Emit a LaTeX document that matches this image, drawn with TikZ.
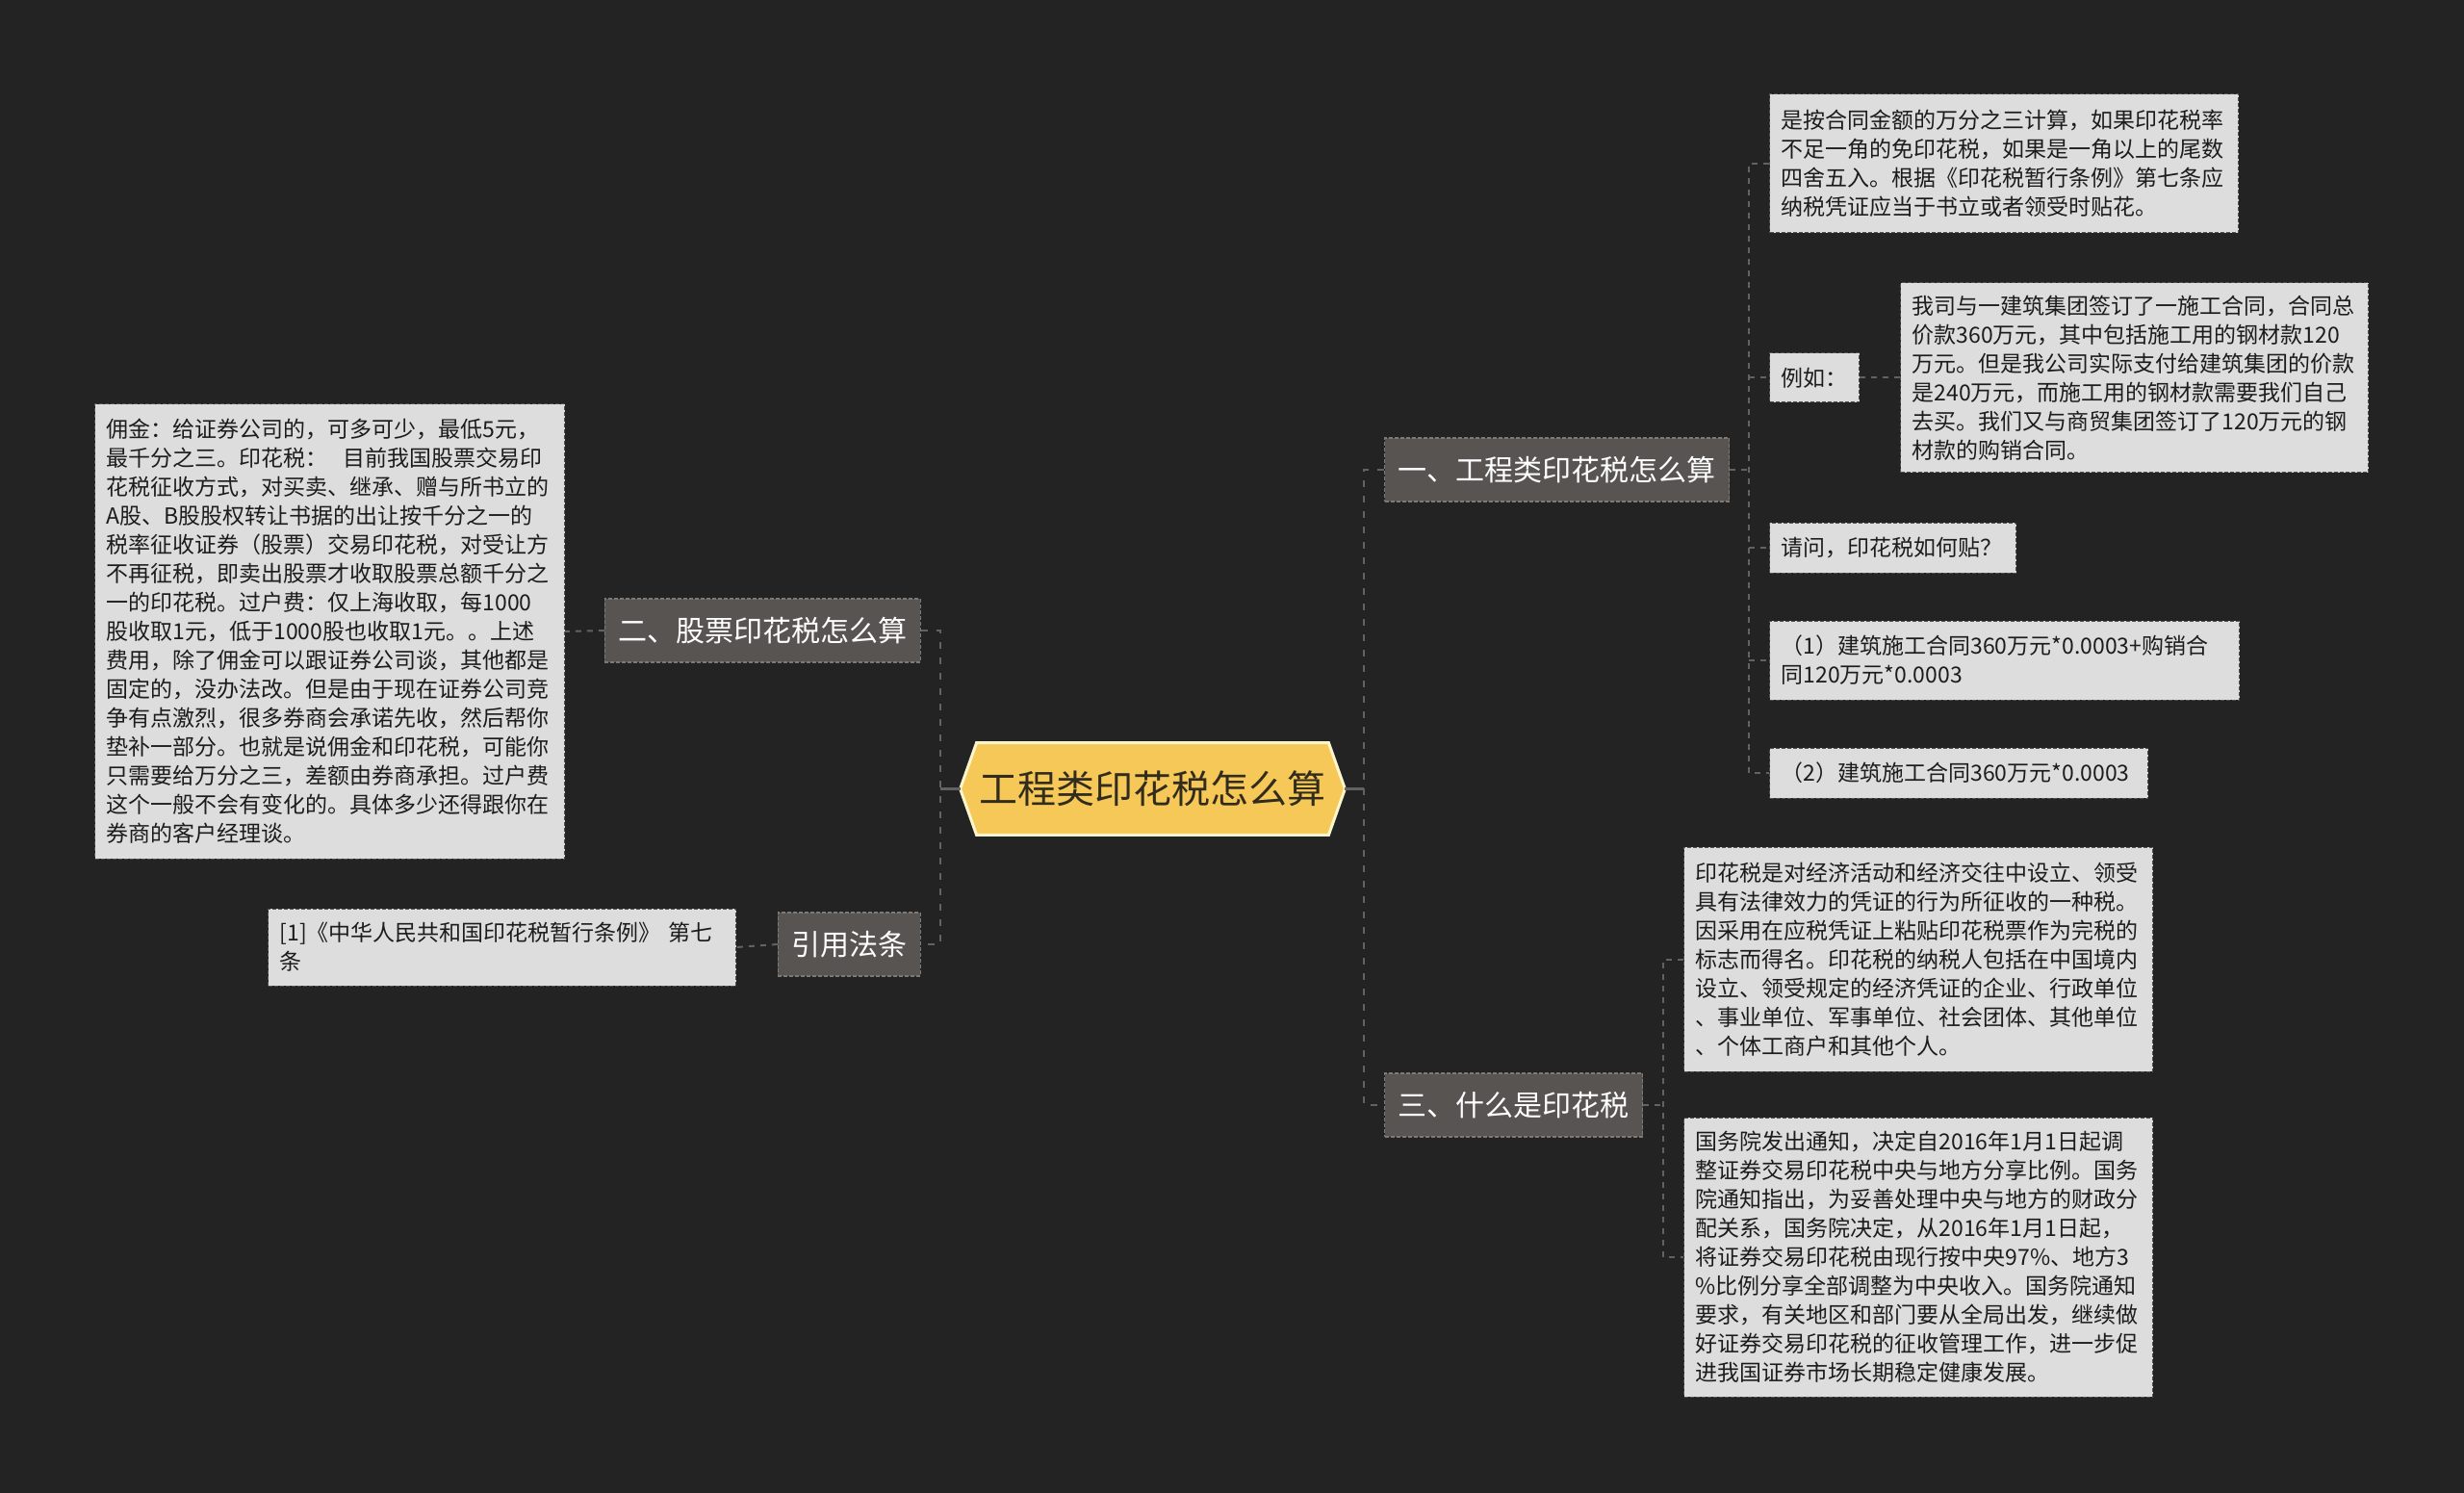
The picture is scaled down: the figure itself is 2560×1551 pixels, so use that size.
\documentclass[tikz,border=0pt]{standalone}
\usepackage{fontspec}
\setmainfont{Noto Sans CJK SC}
\usetikzlibrary{calc}
\pgfdeclarelayer{bglayer}
\pgfdeclarelayer{edgelayer}
\pgfsetlayers{bglayer,edgelayer,main}
\definecolor{bgc}{RGB}{35,35,35}
\definecolor{leaffill}{RGB}{221,221,221}
\definecolor{leafborder}{RGB}{80,80,80}
\definecolor{leaftext}{RGB}{28,28,28}
\definecolor{branchfill}{RGB}{88,84,82}
\definecolor{branchborder}{RGB}{125,121,118}
\definecolor{rootfill}{RGB}{245,200,88}
\definecolor{rootborder}{RGB}{255,245,205}
\definecolor{roottext}{RGB}{50,44,30}
\definecolor{conncol}{RGB}{98,98,98}
\begin{document}
\begin{tikzpicture}[x=0.5pt,y=-0.5pt,
  leaf/.style={draw=leafborder, fill=leaffill, line width=0.5pt, dash pattern=on 2pt off 1pt,
    anchor=west, inner xsep=6pt, inner ysep=0pt, align=left, text=leaftext,
    font=\fontsize{11.5pt}{15pt}\selectfont},
  branch/.style={draw=branchborder, fill=branchfill, line width=0.6pt, dash pattern=on 2pt off 1pt,
    inner xsep=7pt, inner ysep=0pt, minimum height=33pt, text=white,
    font=\fontsize{15pt}{18pt}\selectfont},
  conn/.style={draw=conncol, line width=1.4pt, dash pattern=on 3.5pt off 4.5pt},
  conntwo/.style={draw=conncol, line width=1pt, dash pattern=on 3pt off 3pt},
  stub/.style={draw=conncol, line width=1.4pt}]
\useasboundingbox (0,0) rectangle (2560,1551);
\begin{pgfonlayer}{bglayer}
\fill[bgc] (0,0) rectangle (2560,1551);
\end{pgfonlayer}

% root
\node[font=\fontsize{20pt}{24pt}\selectfont, text=roottext, minimum width=199.5pt,
  minimum height=47.5pt, inner sep=0pt] (root) at (1197.5,819.5) {工程类印花税怎么算};

% branches
\node[branch, anchor=west] (b1) at (1438,488) {一、工程类印花税怎么算};
\node[branch, anchor=west] (b3) at (1438,1148) {三、什么是印花税};
\node[branch, anchor=east] (b2) at (957,655) {二、股票印花税怎么算};
\node[branch, anchor=east] (b4) at (957,981) {引用法条};

% leaves of branch 1
\node[leaf, minimum width=243.5pt, text width=231.5pt, minimum height=72pt] (c1a) at (1838,170)
{是按合同金额的万分之三计算，如果印花税率\\不足一角的免印花税，如果是一角以上的尾数\\四舍五入。根据《印花税暂行条例》第七条应\\纳税凭证应当于书立或者领受时贴花。};
\node[leaf, minimum width=46.5pt, text width=34.5pt, minimum height=25.5pt] (c1b) at (1838,392.5) {例如：};
\node[leaf, minimum width=243pt, text width=231pt, minimum height=98.5pt] (c1bb) at (1974,392.5)
{我司与一建筑集团签订了一施工合同，合同总\\价款360万元，其中包括施工用的钢材款120\\万元。但是我公司实际支付给建筑集团的价款\\是240万元，而施工用的钢材款需要我们自己\\去买。我们又与商贸集团签订了120万元的钢\\材款的购销合同。};
\node[leaf, minimum width=128pt, text width=116pt, minimum height=26pt] (c1c) at (1838,569) {请问，印花税如何贴？};
\node[leaf, minimum width=244pt, text width=232pt, minimum height=41pt] (c1d) at (1838,686)
{（1）建筑施工合同360万元*0.0003+购销合\\同120万元*0.0003};
\node[leaf, minimum width=196.5pt, text width=184.5pt, minimum height=26pt] (c1e) at (1838,803)
{（2）建筑施工合同360万元*0.0003};

% leaves of branch 3
\node[leaf, minimum width=243.5pt, text width=231.5pt, minimum height=116.5pt] (c3a) at (1749,996.5)
{印花税是对经济活动和经济交往中设立、领受\\具有法律效力的凭证的行为所征收的一种税。\\因采用在应税凭证上粘贴印花税票作为完税的\\标志而得名。印花税的纳税人包括在中国境内\\设立、领受规定的经济凭证的企业、行政单位\\、事业单位、军事单位、社会团体、其他单位\\、个体工商户和其他个人。};
\node[leaf, minimum width=243.5pt, text width=231.5pt, minimum height=145pt] (c3b) at (1749,1306)
{国务院发出通知，决定自2016年1月1日起调\\整证券交易印花税中央与地方分享比例。国务\\院通知指出，为妥善处理中央与地方的财政分\\配关系，国务院决定，从2016年1月1日起，\\将证券交易印花税由现行按中央97\%、地方3\\\%比例分享全部调整为中央收入。国务院通知\\要求，有关地区和部门要从全局出发，继续做\\好证券交易印花税的征收管理工作，进一步促\\进我国证券市场长期稳定健康发展。};

% leaves of left branches
\node[leaf, minimum width=244pt, text width=232pt, minimum height=236pt] (l2) at (98,656)
{佣金：给证券公司的，可多可少，最低5元，\\最千分之三。印花税：\hspace{0.7em}目前我国股票交易印\\花税征收方式，对买卖、继承、赠与所书立的\\A股、B股股权转让书据的出让按千分之一的\\税率征收证券（股票）交易印花税，对受让方\\不再征税，即卖出股票才收取股票总额千分之\\一的印花税。过户费：仅上海收取，每1000\\股收取1元，低于1000股也收取1元。。上述\\费用，除了佣金可以跟证券公司谈，其他都是\\固定的，没办法改。但是由于现在证券公司竞\\争有点激烈，很多券商会承诺先收，然后帮你\\垫补一部分。也就是说佣金和印花税，可能你\\只需要给万分之三，差额由券商承担。过户费\\这个一般不会有变化的。具体多少还得跟你在\\券商的客户经理谈。};
\node[leaf, minimum width=243pt, text width=231pt, minimum height=40pt] (l4) at (278,984)
{[1]《中华人民共和国印花税暂行条例》 第七\\条};

% junctions
\coordinate (rj) at (1417,819.5);
\coordinate (lj) at (977,819.5);
\coordinate (jone) at (1817,488);
\coordinate (jthree) at (1728,1148);

\begin{pgfonlayer}{edgelayer}
% root hexagon
\filldraw[fill=rootfill, draw=rootborder, line width=1.5pt, line join=miter]
  (root.west) -- ([xshift=8.5pt]root.north west) -- ([xshift=-8.5pt]root.north east)
  -- (root.east) -- ([xshift=-8.5pt]root.south east) -- ([xshift=8.5pt]root.south west) -- cycle;
% root to trunks
\draw[stub] (root.east) -- (rj);
\draw[stub] (root.west) -- (lj);
\draw[conn] (b1.west) -| (rj) |- (b3.west);
\draw[conn] (b2.east) -| (lj) |- (b4.east);
% branch 1 children
\draw[conntwo] (b1.east) -- (jone);
\draw[conntwo] (c1a.west) -| (jone) |- (c1e.west);
\draw[conntwo] (jone |- c1b.west) -- (c1b.west);
\draw[conntwo] (jone |- c1c.west) -- (c1c.west);
\draw[conntwo] (jone |- c1d.west) -- (c1d.west);
\draw[conntwo] (c1b.east) -- (c1bb.west);
% branch 3 children
\draw[conntwo] (b3.east) -- (jthree);
\draw[conntwo] (c3a.west) -| (jthree) |- (c3b.west);
% left branches
\draw[conntwo] (b2.west) -- (l2.east);
\draw[conntwo] (b4.west) -- (l4.east);
\end{pgfonlayer}
\end{tikzpicture}
\end{document}
